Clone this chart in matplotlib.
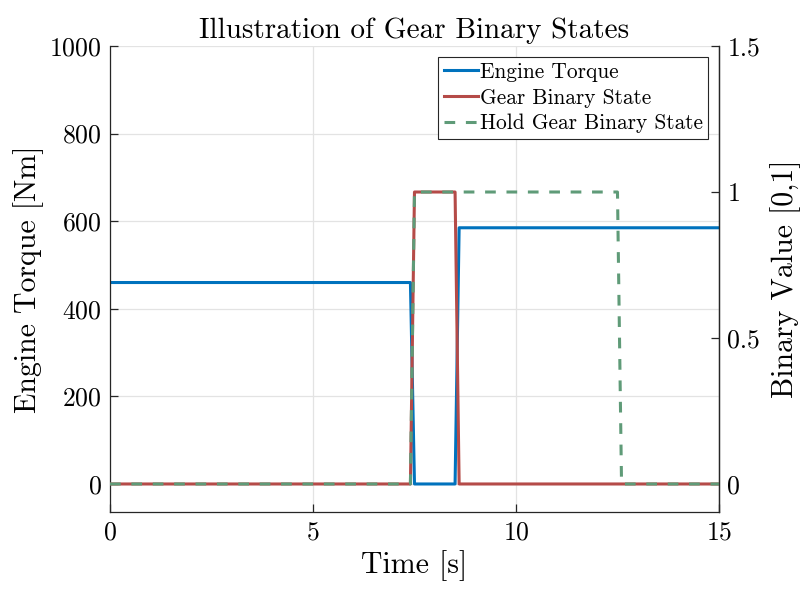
import matplotlib
matplotlib.use("Agg")
import matplotlib.pyplot as plt

plt.rcParams["font.family"] = "serif"
plt.rcParams["font.serif"] = ["cmr10", "DejaVu Serif"]
plt.rcParams["axes.formatter.use_mathtext"] = True
plt.rcParams["mathtext.fontset"] = "cm"

# piecewise signals, breakpoints
time_torque = [0, 7.4, 7.5, 8.5, 8.6, 15]
engine_torque = [460, 460, 0, 0, 585, 585]

time_gear = [0, 7.4, 7.5, 8.5, 8.6, 15]
gear_state = [0, 0, 1, 1, 0, 0]

time_hold = [0, 7.4, 7.5, 12.5, 12.6, 15]
hold_state = [0, 0, 1, 1, 0, 0]

x_ticks = [0, 5, 10, 15]
torque_ticks = [0, 200, 400, 600, 800, 1000]
binary_ticks = [0, 0.5, 1, 1.5]

blue = "#0072BD"
red = "#B54B48"
green = "#5F9B78"
spine_col = "#262626"

fig = plt.figure(figsize=(8.01, 5.90), dpi=100)
ax = fig.add_axes([0.1373, 0.1322, 0.7603, 0.7898])
ax2 = ax.twinx()

h1, = ax.plot(time_torque, engine_torque, color=blue, lw=2.2, label="Engine Torque")
h2, = ax2.plot(time_gear, gear_state, color=red, lw=2.2, label="Gear Binary State")
h3, = ax2.plot(time_hold, hold_state, color=green, lw=2.2, ls=(0, (3.5, 3.5)),
               label="Hold Gear Binary State")

ax.set_xlim(0, 15)
ax.set_ylim(-64, 1000)
ax2.set_ylim(-0.096, 1.5)
ax.set_xticks(x_ticks)
ax.set_yticks(torque_ticks)
ax2.set_yticks(binary_ticks)
ax2.set_yticklabels(["0", "0.5", "1", "1.5"])

ax.grid(True, color="#e3e3e3", lw=0.9)
ax.set_axisbelow(True)

for a in (ax, ax2):
    a.spines["top"].set_visible(False)
    for s in ("left", "right", "bottom"):
        a.spines[s].set_color(spine_col)
        a.spines[s].set_linewidth(0.9)
    a.tick_params(direction="in", length=6, width=0.9, colors=spine_col,
                  labelsize=18.5, labelcolor="black", pad=6)
ax2.spines["left"].set_visible(False)
ax2.spines["bottom"].set_visible(False)

ax.set_xlabel("Time [s]", fontsize=21.5, labelpad=4)
ax.set_ylabel("Engine Torque [Nm]", fontsize=21.5, labelpad=4)
ax2.set_ylabel("Binary Value [0,1]", fontsize=21.5, labelpad=7)
ax.set_title("Illustration of Gear Binary States", fontsize=21, pad=6)

leg = ax2.legend(handles=[h1, h2, h3], loc="upper right", fontsize=15.4,
                 fancybox=False, framealpha=1, edgecolor=spine_col,
                 handlelength=1.6, handletextpad=0.1, borderpad=0.25,
                 labelspacing=0.3, borderaxespad=0.5)
leg.get_frame().set_linewidth(0.8)

fig.savefig("out.png", dpi=100)
